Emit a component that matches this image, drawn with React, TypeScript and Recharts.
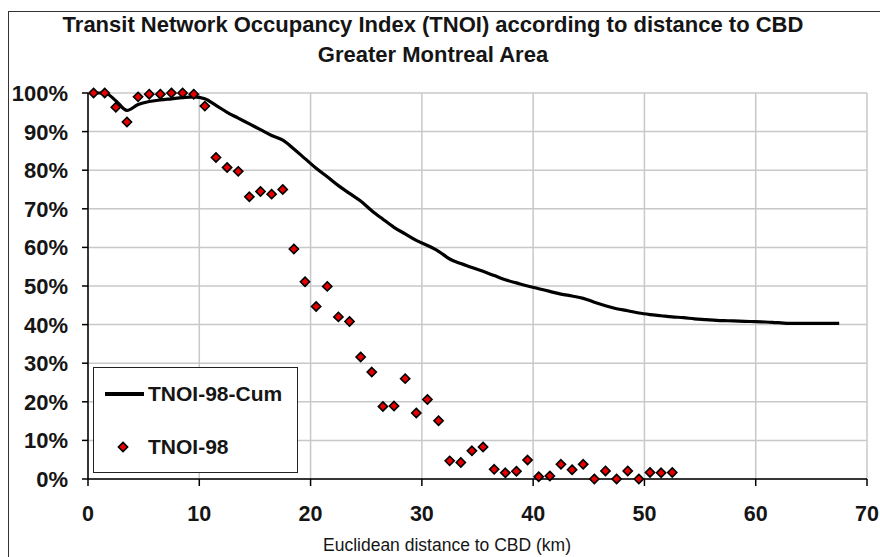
import React from "react";
import { ComposedChart, Line, Scatter, XAxis, YAxis, CartesianGrid } from "recharts";

// TNOI per 1 km ring (bin midpoints)
const binKm = [
  0.5, 1.5, 2.5, 3.5, 4.5, 5.5, 6.5, 7.5, 8.5, 9.5,
  10.5, 11.5, 12.5, 13.5, 14.5, 15.5, 16.5, 17.5, 18.5, 19.5,
  20.5, 21.5, 22.5, 23.5, 24.5, 25.5, 26.5, 27.5, 28.5, 29.5,
  30.5, 31.5, 32.5, 33.5, 34.5, 35.5, 36.5, 37.5, 38.5, 39.5,
  40.5, 41.5, 42.5, 43.5, 44.5, 45.5, 46.5, 47.5, 48.5, 49.5,
  50.5, 51.5, 52.5,
];
const tnoi98 = [
  100, 100, 96.3, 92.5, 99, 99.7, 99.7, 100, 100, 99.7,
  96.6, 83.3, 80.7, 79.7, 73.1, 74.5, 73.8, 75, 59.6, 51.1,
  44.7, 49.9, 42, 40.8, 31.6, 27.7, 18.8, 18.9, 26, 17.1,
  20.6, 15.1, 4.7, 4.3, 7.3, 8.3, 2.5, 1.6, 2.0, 4.9,
  0.6, 0.8, 3.8, 2.4, 3.8, 0, 2.1, 0, 2.1, 0,
  1.7, 1.6, 1.7,
];

// cumulative TNOI from the CBD outwards
const cumKm = [
  0.5, 1.5, 2.5, 3.5, 4.5, 5.5, 6.5, 7.5, 8.5, 9.5,
  10.5, 11.5, 12.5, 13.5, 14.5, 15.5, 16.5, 17.5, 18.5, 19.5,
  20.5, 21.5, 22.5, 23.5, 24.5, 25.5, 26.5, 27.5, 28.5, 29.5,
  30.5, 31.5, 32.5, 33.5, 34.5, 35.5, 36.5, 37.5, 38.5, 39.5,
  40.5, 41.5, 42.5, 43.5, 44.5, 45.5, 46.5, 47.5, 48.5, 49.5,
  50.5, 51.5, 52.5, 53.5, 54.5, 55.5, 56.5, 57.5, 58.5, 59.5,
  60.5, 61.5, 62.5, 63.5, 64.5, 65.5, 66.5, 67.5,
];
const tnoi98Cum = [
  100, 100, 98, 95.5, 97, 97.8, 98.2, 98.5, 98.8, 99,
  98.5, 96.8, 95, 93.5, 92, 90.5, 89, 87.8, 85.5, 83,
  80.5, 78.3, 76, 74, 72, 69.5, 67.3, 65.2, 63.5, 61.8,
  60.5, 59, 57, 55.8, 54.8, 53.8, 52.7, 51.6, 50.8, 50,
  49.3, 48.6, 47.9, 47.4, 46.8, 45.8, 44.9, 44.1, 43.6, 43,
  42.6, 42.3, 42, 41.8, 41.5, 41.3, 41.1, 41, 40.9, 40.8,
  40.7, 40.6, 40.4, 40.3, 40.3, 40.3, 40.3, 40.3,
];

const xTicks = [0, 10, 20, 30, 40, 50, 60, 70];
const yTicks = [0, 10, 20, 30, 40, 50, 60, 70, 80, 90, 100];

const scatterData = binKm.map((km, i) => ({ km, pct: tnoi98[i] }));
const lineData = cumKm.map((km, i) => ({ km, pct: tnoi98Cum[i] }));

const FONT = '"Liberation Sans", Arial, sans-serif';
const INK = "#151515";

const Diamond = (props: any) => {
  const { cx, cy } = props;
  if (cx == null || cy == null) return null;
  const r = 4.6;
  return (
    <path
      d={`M${cx},${cy - r}L${cx + r},${cy}L${cx},${cy + r}L${cx - r},${cy}Z`}
      fill="#e60000"
      stroke="#000"
      strokeWidth={1.6}
    />
  );
};

const YTick = ({ x, y, payload }: any) => (
  <text x={x - 12} y={y} dy={8} textAnchor="end" fontSize={22} fontWeight="bold" fontFamily={FONT} fill={INK}>
    {payload.value}%
  </text>
);

const XTick = ({ x, y, payload }: any) => (
  <text x={x} y={y} dy={33} textAnchor="middle" fontSize={21.5} fontWeight="bold" fontFamily={FONT} fill={INK}>
    {payload.value}
  </text>
);

// legend frame sits inside the plot, lower left
const LegendBox = () => (
  <div
    style={{
      position: "absolute",
      left: 93,
      top: 367,
      width: 205,
      height: 106,
      border: "1.5px solid #222",
      background: "#fff",
      boxSizing: "border-box",
      fontFamily: FONT,
      fontSize: 21,
      fontWeight: "bold",
      color: INK,
    }}
  >
    <div style={{ position: "absolute", left: 11, top: 24, width: 39, height: 4, background: "#000" }} />
    <div style={{ position: "absolute", left: 54, top: 13, lineHeight: "26px" }}>TNOI-98-Cum</div>
    <svg style={{ position: "absolute", left: 21, top: 71 }} width={16} height={16}>
      <Diamond cx={8} cy={8} />
    </svg>
    <div style={{ position: "absolute", left: 54, top: 66, lineHeight: "26px" }}>TNOI-98</div>
  </div>
);

export default function App() {
  return (
    <div style={{ position: "absolute", left: 0, top: 0, width: 880, height: 557, overflow: "hidden", background: "#fff" }}>
      <div
        style={{
          position: "absolute",
          left: 8,
          top: 11,
          width: 920,
          height: 600,
          border: "1.5px solid #333",
          boxSizing: "border-box",
        }}
      />
      <div
        style={{
          position: "absolute",
          left: 0,
          width: 866,
          top: 10,
          textAlign: "center",
          fontFamily: FONT,
          fontSize: 22,
          fontWeight: "bold",
          lineHeight: "30px",
          color: INK,
        }}
      >
        <div>Transit Network Occupancy Index (TNOI) according to distance to CBD</div>
        <div>Greater Montreal Area</div>
      </div>
      <ComposedChart
        width={880}
        height={557}
        margin={{ top: 93, right: 13, bottom: 48, left: 8 }}
        style={{ position: "absolute", left: 0, top: 0 }}
      >
        <CartesianGrid stroke="#c8c8c8" strokeWidth={1.5} />
        <XAxis
          dataKey="km"
          type="number"
          domain={[0, 70]}
          ticks={xTicks}
          interval={0}
          height={30}
          tick={<XTick />}
          axisLine={{ stroke: "#000", strokeWidth: 1.5 }}
          tickLine={{ stroke: "#000", strokeWidth: 1.5 }}
          tickSize={7}
          allowDuplicatedCategory={false}
        />
        <YAxis
          dataKey="pct"
          type="number"
          domain={[0, 100]}
          ticks={yTicks}
          interval={0}
          width={80}
          tick={<YTick />}
          axisLine={{ stroke: "#000", strokeWidth: 1.5 }}
          tickLine={{ stroke: "#000", strokeWidth: 1.5 }}
          tickSize={6}
        />
        <Line
          data={lineData}
          dataKey="pct"
          type="monotone"
          stroke="#000"
          strokeWidth={3.2}
          dot={false}
          activeDot={false}
          isAnimationActive={false}
          name="TNOI-98-Cum"
        />
        <Scatter
          data={scatterData}
          dataKey="pct"
          shape={<Diamond />}
          isAnimationActive={false}
          name="TNOI-98"
        />
      </ComposedChart>
      <LegendBox />
      <div
        style={{
          position: "absolute",
          left: 0,
          width: 894,
          top: 534,
          textAlign: "center",
          fontFamily: FONT,
          fontSize: 17.5,
          lineHeight: "22px",
          color: INK,
        }}
      >
        Euclidean distance to CBD (km)
      </div>
    </div>
  );
}
